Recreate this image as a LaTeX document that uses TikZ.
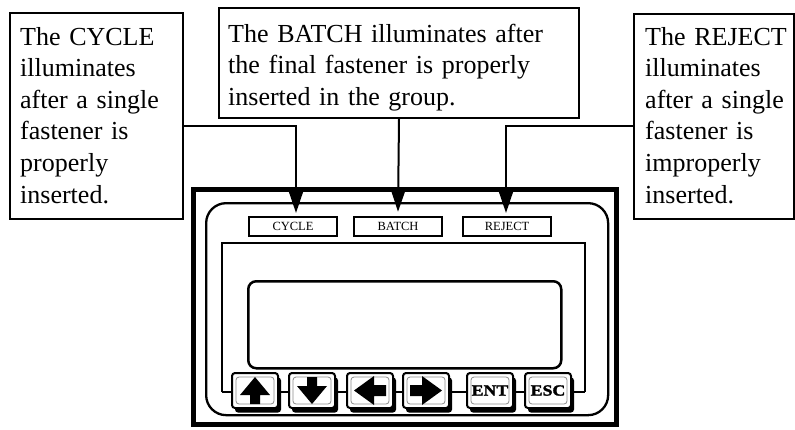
\documentclass[tikz,border=0pt]{standalone}
\usepackage{fontspec}
\setmainfont{Liberation Serif}
\newfontfamily\keyfont[FakeStretch=1.15,FakeBold=2]{Liberation Serif}
\usetikzlibrary{arrows.meta,shadows}

\tikzset{
  callout/.style={draw, line width=2pt, inner sep=0pt, anchor=north west},
  note/.style={inner sep=0pt, anchor=base west, align=left,
    font=\fontsize{26}{31.6}\selectfont},
  conn/.style={line width=2pt, -{Triangle[length=23pt,width=15pt]}},
  panel/.style={draw, line width=4.5pt},
  bezel/.style={draw, line width=2.3pt, rounded corners=20pt},
  lamp/.style={draw, line width=2.5pt, minimum width=88pt, minimum height=19pt,
    inner sep=0pt, font=\fontsize{12.5}{13}\selectfont},
  frameline/.style={line width=2.5pt},
  lcd/.style={draw, line width=2.5pt, rounded corners=8pt},
  keycap/.style={draw, fill=white, line width=2pt, rounded corners=3pt,
    minimum width=46pt, minimum height=35pt, inner sep=0pt,
    drop shadow={shadow xshift=3pt, shadow yshift=-4.5pt, fill=black, opacity=1},
    path picture={\draw[black!45, line width=0.8pt]
      ([shift={(4pt,-4pt)}]path picture bounding box.north west) rectangle
      ([shift={(-4pt,4pt)}]path picture bounding box.south east);},
    font=\keyfont\bfseries\fontsize{15.5}{16}\selectfont},
  glyph/.style={fill=black}
}

\begin{document}
\begin{tikzpicture}[x=1pt,y=-1pt]
\useasboundingbox (0,0) rectangle (795,429);

% operator panel housing
\node[panel, minimum width=423pt, minimum height=235pt, anchor=north west, inner sep=0pt] (housing) at (191,187) {};
\node[bezel, minimum width=402pt, minimum height=212pt, anchor=north west, inner sep=0pt] (bezel) at (205,202) {};

% indicator lamps
\node[lamp] (cycleled)  at (293,226.5) {CYCLE};
\node[lamp] (batchled)  at (398,226.5) {BATCH};
\node[lamp] (rejectled) at (507,226.5) {REJECT};

% display frame and key rail
\coordinate (fl) at (222,392);
\coordinate (fr) at (585,392);
\draw[frameline] (fl) -- (222,243) -- (585,243) -- (fr);
\draw[frameline] (fl) -- (fr);

% LCD window
\node[lcd, minimum width=313pt, minimum height=87pt, anchor=north west, inner sep=0pt] (screen) at (247,280) {};

% keypad
\node[keycap] (kup)    at (255,390.5) {};
\node[keycap] (kdown)  at (312,390.5) {};
\node[keycap] (kleft)  at (370,390.5) {};
\node[keycap] (kright) at (426,390.5) {};
\node[keycap] (kent)   at (490,390.5) {ENT};
\node[keycap] (kesc)   at (548,390.5) {ESC};

% arrow legends on the keys
\fill[glyph] ([shift={(0pt,13.5pt)}]kup.center) -- ++(15,18) -- ++(-10,0) -- ++(0,9)
  -- ++(-10,0) -- ++(0,-9) -- ++(-10,0) -- cycle;
\fill[glyph] ([shift={(0pt,-13.5pt)}]kdown.center) -- ++(15,-18) -- ++(-10,0) -- ++(0,-9)
  -- ++(-10,0) -- ++(0,9) -- ++(-10,0) -- cycle;
\fill[glyph] ([shift={(-16pt,0pt)}]kleft.center) -- ++(20,-14.5) -- ++(0,9) -- ++(12,0)
  -- ++(0,11) -- ++(-12,0) -- ++(0,9) -- cycle;
\fill[glyph] ([shift={(16pt,0pt)}]kright.center) -- ++(-20,-14.5) -- ++(0,9) -- ++(-12,0)
  -- ++(0,11) -- ++(12,0) -- ++(0,9) -- cycle;

% explanatory callouts
\node[callout, minimum width=173pt, minimum height=206pt] (cyclebox) at (9,12) {};
\node[note, text width=165pt] (cycletext) at (20,45)
  {The CYCLE\\illuminates\\after a single\\fastener is\\properly\\inserted.};

\node[callout, minimum width=360pt, minimum height=110pt] (batchbox) at (218,7) {};
\node[note, text width=345pt] (batchtext) at (228,42)
  {The BATCH illuminates after\\the final fastener is properly\\inserted in the group.};

\node[callout, minimum width=160pt, minimum height=205pt] (rejectbox) at (633,13) {};
\node[note, text width=148pt] (rejecttext) at (645,45)
  {The REJECT\\illuminates\\after a single\\fastener is\\improperly\\inserted.};

% leader lines to the lamps
\coordinate (knee) at (0,126);
\coordinate (cycletip) at (296,213);
\coordinate (rejecttip) at (506,213);
\draw[conn] (cyclebox.east |- knee) -| (cycletip);
\draw[conn] (batchbox.south) -- ([yshift=4pt]batchled.north);
\draw[conn] (rejectbox.west |- knee) -| (rejecttip);
\end{tikzpicture}
\end{document}
